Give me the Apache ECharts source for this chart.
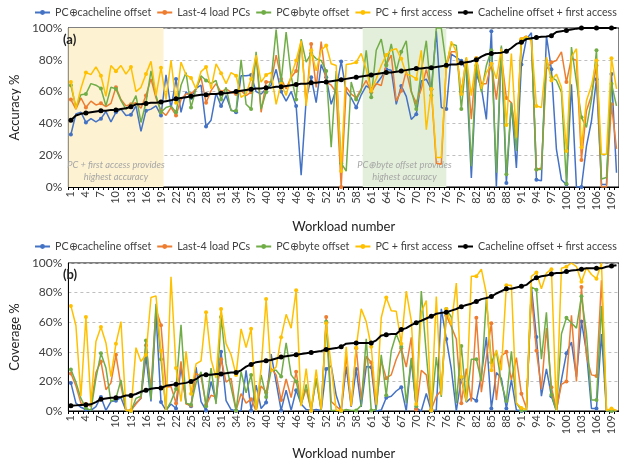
<!DOCTYPE html>
<html><head><meta charset="utf-8">
<script src="https://cdn.jsdelivr.net/npm/echarts@6/dist/echarts.min.js"></script>
<style>html,body{margin:0;padding:0;background:#fff}#c{width:619px;height:461px}</style>
</head><body><div id="c"></div>
<script>
const workloads = Array.from({length:110},(_,i)=>String(i+1));
const seriesNames = ['PC⊕cacheline offset','Last-4 load PCs','PC⊕byte offset','PC + first access','Cacheline offset + first access'];
const colors = ['#4472C4','#ED7D31','#70AD47','#FFC000','#000000'];

// (a) Accuracy %
const accBlue = [33,46,47,40.6,43,41,43,47.5,41,47,49,45,45.5,51,35,48,49,51,45,70.5,49.5,68,47,60,56,62,64,38,42,59,51,57.5,48.5,47,70,70,70.5,60,58.5,61.7,64,74,60,54,60,51,7.4,55,69,53,77,69,52,61.5,79,60,56,50,58,63.6,61.5,64.6,69,74,73.5,52,63.6,57,42.5,45.7,66.7,67.8,61.5,98,50,49,83.6,81.5,79.4,73,5.7,71,62.5,42.5,98,0,88,2.5,53,12,77,93,97,4.6,4,95,74,23.6,4.6,1.5,64.6,0,0,25.7,41.5,67.8,1.5,1.5,71,9];
const accOrange = [55,49,56,50,54,51.6,52.6,50.5,52.6,62.7,55,51,52,53,49.5,57.5,68,56,48,45,50,45,55,58.5,58.5,61.7,69,53,60.6,65,59.6,61.7,59.6,58.5,60.6,57.5,59.6,82.7,47,66,66,83,68,61.7,69,73,92,52,90,62.7,91.5,66,64,59.6,0,62.7,58.5,56,61.7,67,59.6,65,63.8,77,83,54,60.6,73,59.6,53,61.7,74,61.7,15,14.3,76.4,85,85,59.6,81,42.7,81,65,65,77.5,55,81.7,56,53,31,93,95,92,11,12,74,78.5,79.6,85,66,81,79.6,17,48,57.5,76.4,0,0,52,24];
const accGreen = [64,50,58,58.5,65,64,62,51,62.7,61.7,54.3,49,51,57.5,40.6,53,73,57.5,47,50,51,47,64,72,50,61.7,70,67,65,67,55,62.7,48,48,80,52,49,85,49,59.6,67,99,66,97.5,69.7,55,93,78.5,84,80.6,79.6,73,25,73,15,10,66,55,60.6,86,56.4,86,93,76.4,90,73,85,92,60.6,49,73,92,57.5,100,100,76.4,90,89,49,81,13,76.4,59.6,76.4,86,9,89,8,53,22.7,92,94,93,11,11,80.6,69,67,59.6,2,88,66,43.8,37.5,55,86,5,6,65,51];
const accYellow = [66,49,62,72,70.7,75.6,70,57,76.4,72.8,76.4,71,75.4,60,62.7,71,79,57.5,75,55,79.6,53,78.5,70.5,68.6,61.7,72.6,75.4,61.7,77.5,71.6,65,72,70,56.4,58.5,68,83,66,70.5,72,52,65,57.5,70,79.6,92,51,86,73,86,89,77.5,76.4,10,77,77.5,78.5,84,74,60.6,68,76.4,83,86,87,80.6,71,70,68,86,36,61.7,18.5,18.5,75.4,91.6,85,58.5,81.7,57.5,81,61.7,72,77.5,68,87,39,84,31,93,94.7,92,51,50,81.7,67,71,62.7,22.7,81.7,87,25,54.3,63.8,79.6,20.6,20.6,81,61.7];
const accBlack = [42,45,46,46.5,47,47.5,48,48,48.5,48.5,49,49.5,50.5,52,52,52.5,53,53,53.5,54,54.5,55.5,56,56.5,57,57.5,58,58,58.5,58.5,59,59,59.5,60,60.5,61,61.5,62,62,62.5,62.5,63,63,63.5,64,64.5,65,65,65.5,65.5,66,66,66.5,67,67.5,68,68.5,69,69.5,70,70.5,71,71.5,72,72,72.5,73,73.5,74,74.5,74.5,75,75,75.5,76,76.5,77,77,78,78.5,79,80,82,83.5,84,84.2,84.5,85.3,87.4,90,91,93,93.5,94,94.5,94.7,95.2,97.5,98,98.5,99,99.6,100,100,100,100,100,100,100,100];

// (b) Coverage %
const covBlue = [19,5.3,2.5,1,0.4,3,9.5,0.4,6.4,7,9,0.4,0.4,5.3,8.5,37,6.4,65.7,6,0.4,4.7,1.7,29.7,5.3,3.2,29.7,6.4,0.4,20,6.4,40,7,1,0,0.4,27.5,0.4,17.4,1.7,5.7,38.5,19.5,0.4,14,0.4,14,4.7,1,0.4,1,0.4,28.4,30.5,10.6,0,30,2.8,28.4,2.8,30,29.5,0,0.6,9,10,13.5,16,0,34.8,1.7,0,11.8,0,0.6,69,48.7,28.4,0,22,6,9,7,24,50,1.7,26,22,1.7,21,0.6,0,0,84,50,10,28.4,10,0,21,39,46.6,23,60.5,40,1.7,1.7,52,0,0,0];
const covOrange = [25.4,17,5.3,4.7,3.2,26,33.5,14.4,19,38,17,0.4,0.4,4.7,9,44.5,14.8,69,58,16,16.5,5.3,33.5,4.7,3.8,25.4,23.3,4.2,10.6,9.5,35,19.5,22,0.4,11.7,5.3,8,0,17,12.7,29,24.4,7.4,21.6,9,26.5,4.7,14.8,0.4,22,0.4,63.5,6.4,3.2,0.4,38,3.2,42.4,7.4,37,32.8,3.8,33.9,22.2,24.4,35,42.4,29.7,49.8,1,27.5,24.4,1,10,13.8,64.6,57,48.7,5.3,28.6,6.4,63,12.7,36,59.3,7.4,37,40,21,36,11.7,2,79.4,40.7,14.8,56,16,1,18,20,64.6,20,83.7,37,24.4,23.7,88.3,0.4,0.4,0.4];
const covGreen = [28,19.5,8.5,2,0.4,22,39,29,6.4,8.5,21,0.4,0,8.5,10,47.7,7.8,72.5,35,0.4,6.4,14.8,58.3,5.3,4.2,19,26.5,3.2,29,4.7,63.5,31.8,16,0.4,26.5,12.3,24.4,0.4,24.4,9.5,27.5,27.5,23.3,46,24.4,20,4.2,18,0.4,22,0.4,60.4,0.4,0.4,0,1,0.4,0.4,3.8,48.7,0.4,1,38,10.6,40.7,52,43.4,5.3,36,3.2,81,38.5,0.4,36.4,9.5,68.9,63.5,5.3,44,6.4,35,35,20,76.3,32.8,40.3,19,6.8,40.3,5.3,0.4,0.4,83.7,82,35,66.7,11,0,52,63,59.4,56,77.6,52.4,7.5,7.5,71,0,0,0];
const covYellow = [71,57.8,10,63.5,5.3,47,56.8,46,23.3,45.5,60.4,0.4,0.4,42.8,33.5,38,76.7,77.8,40.7,0.4,90.7,29,6.4,40.3,11.7,31.8,33.9,66.7,35,22.2,68.9,45.5,38,24.4,55.5,42.8,55.5,0.4,28.6,75.6,26.5,29.7,49.8,65.3,56,81.6,3.2,28.6,0.4,28,1,59.3,30.7,0.4,0.4,43.4,3.2,42.8,69,60.4,43.4,4.2,63,76.7,67.8,67.4,45.5,81,61,4.7,66.7,74.6,0.4,77.3,10.6,68.9,58,86.4,22.9,6.4,91,91,95.8,79.4,27.5,41.3,27.5,85,85,5.3,2,1,91,93.6,82.6,93.2,95.8,0.4,96.4,97.5,100,97.5,87.3,96.8,92.2,89.4,100,0.4,1.7,0.4];
const covBlack = [3.6,3.8,4,4.2,4.5,6,8,8.5,9,9,9.5,10.5,10.5,11.5,13,14,15,15.5,15.5,17,17.5,18,18.5,19,20,21.5,24,24.5,24.5,25,25,25.5,26,26,27.5,30,31.5,33,33.5,34,34.5,35.5,36.5,37,37.5,38,38.5,39,39.5,40,40.5,41.5,42,42.5,43.4,45.5,45.8,46,46,46,46,47.7,51,51.5,52,52,55,56,58,59.7,61,62.5,64,65.7,66.3,66.7,67.8,68.9,70.5,71.6,72.5,74,75.6,76.3,77.3,79.4,81,82.6,82.6,83.5,84.3,85.2,88,90,91,91.5,92.6,93.2,93.2,94.3,95,95.3,95.8,96.4,96.4,96.4,96.4,97.5,98,98.5];

const accData = [accBlue, accOrange, accGreen, accYellow, accBlack];
const covData = [covBlue, covOrange, covGreen, covYellow, covBlack];

const FONT = 'Lato';
const txt = '#404040';

function mkSeries(data, gi){
  return data.map((d,k)=>({
    name: seriesNames[k], type:'line', xAxisIndex: gi, yAxisIndex: gi,
    data: d, color: colors[k], symbol:'circle', symbolSize: k===4?5:4,
    lineStyle:{width: k===4?2:1.5, color: colors[k]}, itemStyle:{color: colors[k]},
    z: 2+k, animation:false
  }));
}
function xCat(gi, name, gap){
  return {type:'category', gridIndex: gi, data: workloads, boundaryGap:true,
    axisLine:{lineStyle:{color:'#000', width:1}},
    axisTick:{show:true, interval:0, length:3, lineStyle:{color:'#000'}},
    axisLabel:{interval:2, rotate:90, fontSize:11, color:txt, fontFamily:FONT, margin:4},
    name: name, nameLocation:'middle', nameGap: gap,
    nameTextStyle:{fontSize:13, color:'#222', fontFamily:FONT}};
}
function yVal(gi, name){
  return {type:'value', gridIndex: gi, min:0, max:100, interval:20,
    axisLine:{show:true, lineStyle:{color:'#000'}}, axisTick:{show:false},
    axisLabel:{formatter:'{value}%', fontSize:12, color:txt, fontFamily:FONT, margin:6},
    splitLine:{lineStyle:{type:[3,3], color:'#bfbfbf'}},
    name: name, nameLocation:'middle', nameGap:41,
    nameTextStyle:{fontSize:13, color:'#222', fontFamily:FONT}};
}
const legendBase = {data: seriesNames, left: 34, width: 590, padding: 0, itemWidth:15, itemHeight:6, itemGap:5,
  textStyle:{fontSize:10.7, color:txt, fontFamily:FONT}};
const annoLabel = (t)=>({show:true, position:'insideBottom', distance:4, formatter:t,
  color:'#a6a6a6', fontStyle:'italic', fontSize:9.3, fontFamily:FONT, lineHeight:12});

const option = {
  backgroundColor:'#fff', animation:false,
  legend:[Object.assign({top:7}, legendBase), Object.assign({top:241}, legendBase)],
  grid:[
    {left:58, right:-2, top:28, height:159, show:true, borderColor:'#000', borderWidth:1},
    {left:58, right:-2, top:263, height:156, show:true, borderColor:'#000', borderWidth:1}
  ],
  xAxis:[xCat(0,'Workload number',33), xCat(1,'Workload number',36),
    {type:'value', gridIndex:0, min:0.5, max:110.5, show:false}],
  yAxis:[yVal(0,'Accuracy %'), yVal(1,'Coverage %')],
  series:[
    {type:'line', xAxisIndex:2, yAxisIndex:0, data:[], silent:true, z:0,
     markArea:{silent:true, data:[
       [{xAxis:0.5, itemStyle:{color:'#FDF2D2'}, label:annoLabel('PC + first access provides\nhighest accuracy')},{xAxis:19.5}],
       [{xAxis:59.3, itemStyle:{color:'#E3EFDA'}, label:annoLabel('PC⊕byte offset provides\nhighest accuracy')},{xAxis:76}]
     ]}},
    ...mkSeries(accData,0), ...mkSeries(covData,1)
  ],
  graphic:[
    {type:'text', left:63, top:33, z:100, style:{text:'(a)', fontSize:13, fontWeight:'bold', fill:'#222', fontFamily:FONT}},
    {type:'text', left:63, top:268, z:100, style:{text:'(b)', fontSize:13, fontWeight:'bold', fill:'#222', fontFamily:FONT}}
  ]
};
const chart = echarts.init(document.getElementById('c'), null, {renderer:'canvas'});
chart.setOption(option);
</script></body></html>
